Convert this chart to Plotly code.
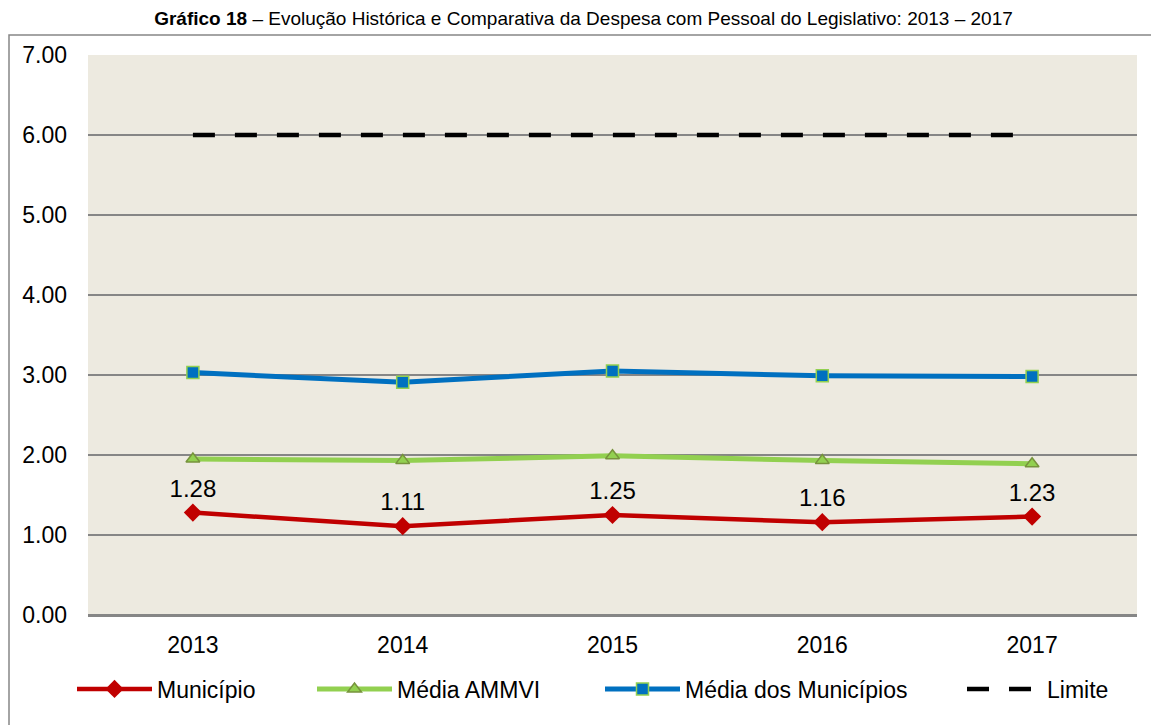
import plotly.graph_objects as go

years = ["2013", "2014", "2015", "2016", "2017"]
municipio = [1.28, 1.11, 1.25, 1.16, 1.23]
media_ammvi = [1.95, 1.93, 1.99, 1.93, 1.89]
media_municipios = [3.03, 2.91, 3.05, 2.99, 2.98]
limite = [6.00, 6.00, 6.00, 6.00, 6.00]
y_ticks = [0, 1, 2, 3, 4, 5, 6, 7]

FONT = "Arial, Liberation Sans, sans-serif"

# figure geometry (page is offset 8px by the body margin)
W, H = 1151, 717
ML, MR, MT, MB = 80, 22, 47, 110
PW, PH = W - ML - MR, H - MT - MB


def px_x(fx):
    return (fx - ML) / PW


def px_y(fy):
    return (H - MB - fy) / PH


fig = go.Figure()

fig.add_trace(go.Scatter(
    x=years, y=municipio, name="Município", mode="lines+markers+text",
    line=dict(color="#C00000", width=4.5),
    marker=dict(symbol="diamond", size=14, color="#C00000", line=dict(width=0)),
    text=[f"{v:.2f}" for v in municipio], textposition="top center",
    textfont=dict(size=24, color="#000000", family=FONT),
    legend="legend",
))
fig.add_trace(go.Scatter(
    x=years, y=media_ammvi, name="Média AMMVI", mode="lines+markers",
    line=dict(color="#92D050", width=5),
    marker=dict(symbol="triangle-up", size=12, color="#92D050",
                line=dict(color="#77933C", width=1.5)),
    legend="legend2",
))
fig.add_trace(go.Scatter(
    x=years, y=media_municipios, name="Média dos Municípios", mode="lines+markers",
    line=dict(color="#0070C0", width=5),
    marker=dict(symbol="square", size=12, color="#0070C0",
                line=dict(color="#92D050", width=1.5)),
    legend="legend3",
))
fig.add_trace(go.Scatter(
    x=years, y=limite, name="Limite", mode="lines",
    line=dict(color="#000000", width=4.5, dash="22px,20px"),
    legend="legend4",
))

# outer chart border
fig.add_shape(type="rect", xref="paper", yref="paper",
              x0=px_x(1), x1=px_x(W + 10),
              y0=px_y(H + 10), y1=px_y(27),
              line=dict(color="#868686", width=1.5), layer="below")

leg_common = dict(orientation="h", yanchor="middle", xanchor="left",
                  font=dict(size=23, family=FONT, color="#000000"),
                  itemwidth=75, bgcolor="rgba(0,0,0,0)", borderwidth=0)
leg_y = px_y(689 - 8)

fig.update_layout(
    width=W, height=H,
    margin=dict(l=ML, r=MR, t=MT, b=MB, autoexpand=False),
    paper_bgcolor="#FFFFFF",
    plot_bgcolor="#EDEAE0",
    font=dict(family=FONT, size=23, color="#000000"),
    title=dict(
        text="<b>Gráfico 18</b> – Evolução Histórica e Comparativa da Despesa com Pessoal do Legislativo: 2013 – 2017",
        x=0.5, xanchor="center", xref="container",
        y=1, yanchor="top", yref="container", pad=dict(t=4, b=0),
        font=dict(size=19, family=FONT, color="#000000"),
    ),
    xaxis=dict(
        type="category", range=[-0.5, 4.5],
        showgrid=False, zeroline=False, showline=False,
        ticks="", tickfont=dict(size=23), ticklabelstandoff=14,
    ),
    yaxis=dict(
        range=[0, 7], tickvals=y_ticks, tickformat=".2f",
        showgrid=True, gridcolor="#868686", gridwidth=2,
        zeroline=True, zerolinecolor="#868686", zerolinewidth=2.5,
        showline=False, ticks="", tickfont=dict(size=23), ticklabelstandoff=20,
    ),
    legend=dict(x=px_x(72 - 8), y=leg_y, **leg_common),
    legend2=dict(x=px_x(312 - 8), y=leg_y, **leg_common),
    legend3=dict(x=px_x(600 - 8), y=leg_y, **leg_common),
    legend4=dict(x=px_x(962 - 8), y=leg_y, **leg_common),
    showlegend=True,
)

fig.write_html("out.html")
